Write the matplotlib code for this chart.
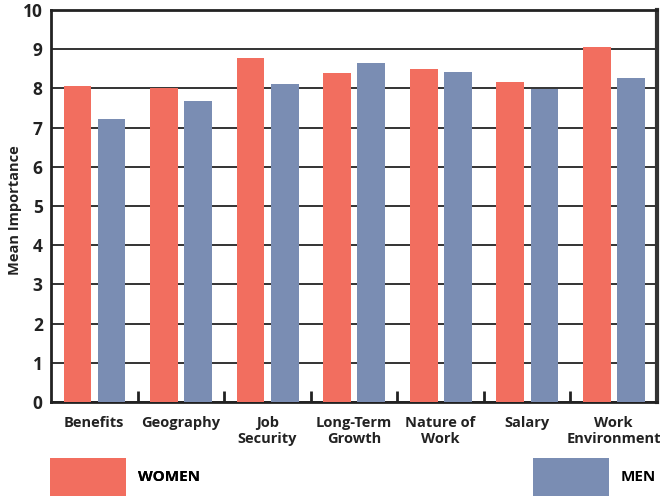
import numpy as np
import matplotlib
matplotlib.use("Agg")
import matplotlib.pyplot as plt

# Mean importance ratings of job factors by gender
categories = ["Benefits", "Geography", "Job\nSecurity", "Long-Term\nGrowth",
              "Nature of\nWork", "Salary", "Work\nEnvironment"]
women = [8.06, 8.01, 8.78, 8.39, 8.49, 8.16, 9.06]
men = [7.22, 7.68, 8.11, 8.65, 8.42, 7.98, 8.27]

red = "#F26E5F"
blue = "#7A8DB3"

plt.rcParams["font.family"] = ["Open Sans", "DejaVu Sans"]
plt.rcParams["font.weight"] = "bold"

fig = plt.figure(figsize=(6.6, 4.96), dpi=100)
ax = fig.add_axes([51 / 660, 94 / 496, 606 / 660, 392 / 496])

x = np.arange(len(categories))
width = 0.32
b1 = ax.bar(x - 0.195, women, width, color=red, zorder=3, label="WOMEN")
b2 = ax.bar(x + 0.2, men, width, color=blue, zorder=3, label="MEN")

ax.set_xlim(-0.5, len(categories) - 0.5)
ax.set_ylim(0, 10)
ax.set_yticks(range(0, 11))
ax.set_yticklabels([str(v) for v in range(0, 11)], fontsize=12.5, fontweight="bold", color="#222222")
ax.yaxis.grid(True, color="#333333", linewidth=1.4, zorder=1)
ax.tick_params(axis="y", length=0, pad=6)

# category labels, with small upward ticks between groups
ax.set_xticks(x)
ax.set_xticklabels(categories, fontsize=10.5, fontweight="bold", color="#222222",
                   linespacing=1.15, va="top")
ax.tick_params(axis="x", length=0, pad=10)
ax.set_xticks(x[:-1] + 0.5, minor=True)
ax.tick_params(axis="x", which="minor", direction="in", length=8, width=2, color="#222222")

for side in ["left", "bottom", "top"]:
    ax.spines[side].set_linewidth(2)
    ax.spines[side].set_color("#222222")
ax.spines["right"].set_linewidth(3)
ax.spines["right"].set_color("#333333")

ax.set_ylabel("Mean Importance", fontsize=10.5, fontweight="bold", color="#222222")
ax.yaxis.set_label_coords(-29 / 606, 0.49)

legend_kw = dict(frameon=False, borderpad=0, borderaxespad=0,
                 handlelength=5.0, handleheight=3.5, handletextpad=0.75,
                 prop={"size": 11, "weight": "bold"})
leg1 = fig.legend(handles=[b1], labels=["WOMEN"], loc="lower left",
                  bbox_to_anchor=(50 / 660, 0), **legend_kw)
leg2 = fig.legend(handles=[b2], labels=["MEN"], loc="lower right",
                  bbox_to_anchor=(656 / 660, 0), **legend_kw)
fig.add_artist(leg1)

fig.savefig("out.png", dpi=100)
